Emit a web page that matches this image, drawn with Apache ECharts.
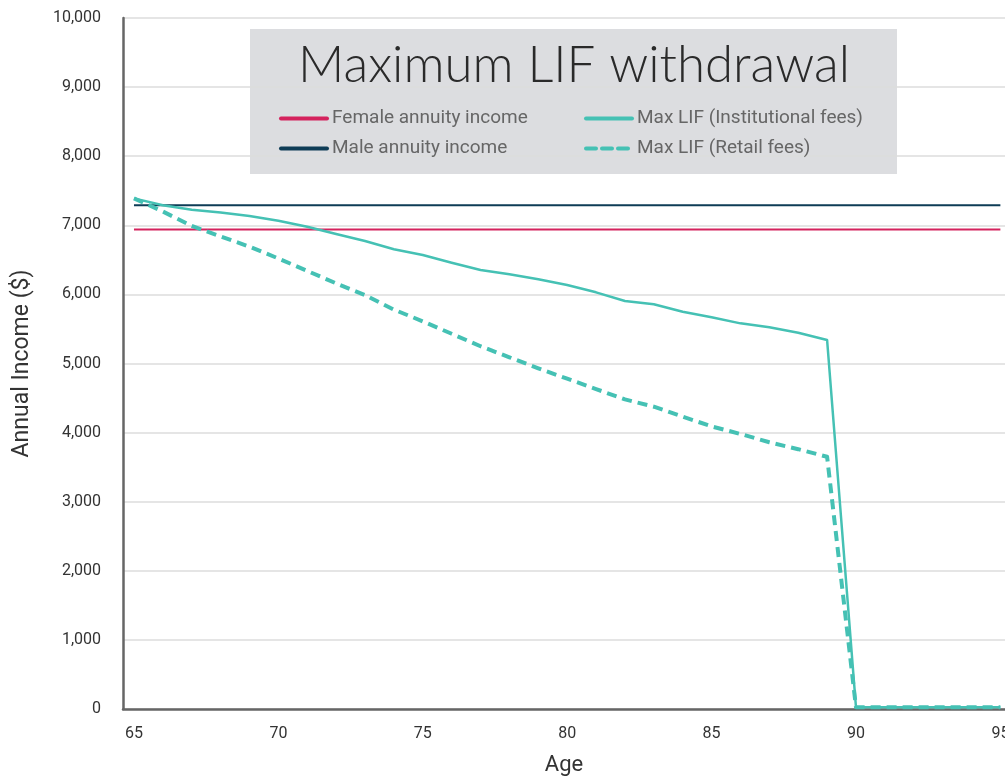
<!DOCTYPE html>
<html>
<head>
<meta charset="utf-8">
<script src="https://cdn.jsdelivr.net/npm/echarts@6/dist/echarts.min.js"></script>
<style>
html,body{margin:0;padding:0;background:#fff;}
#chart{width:1005px;height:777px;}
</style>
</head>
<body>
<div id="chart"></div>
<script>
const ages = [65,66,67,68,69,70,71,72,73,74,75,76,77,78,79,80,81,82,83,84,85,86,87,88,89,90,91,92,93,94,95];
const femaleAnnuity = 6940;
const maleAnnuity = 7290;
const maxLifInstitutional = [7390,7290,7225,7185,7135,7067,6980,6874,6773,6653,6570,6459,6353,6290,6218,6136,6030,5904,5857,5750,5668,5581,5524,5446,5340,25,25,25,25,25,25];
const maxLifRetail = [7390,7200,6990,6840,6690,6520,6340,6160,5990,5780,5610,5430,5250,5090,4930,4780,4630,4480,4375,4230,4090,3980,3860,3760,3650,25,25,25,25,25,25];
const xTicks = [65,70,75,80,85,90,95];

const pairs = arr => ages.map((a,i)=>[a,arr[i]]);
const constPairs = v => ages.map(a=>[a,v]);

const FONT = 'Roboto';
const legendBase = {orient:'vertical',top:109,padding:0,
  itemWidth:46,itemHeight:18,itemGap:11,
  itemStyle:{opacity:0,borderWidth:0},
  lineStyle:{width:4,cap:'round'},
  textStyle:{fontFamily:FONT,fontSize:19,color:'#666',lineHeight:18}};
const chart = echarts.init(document.getElementById('chart'));
chart.setOption({
  animation:false,
  backgroundColor:'#ffffff',
  grid:{left:123,right:0,top:18,bottom:68,containLabel:false,outerBoundsMode:'none'},
  graphic:[{type:'rect',shape:{x:250,y:29,width:647,height:145},style:{fill:'#dcdde0'},z:0,silent:true}],
  title:{text:'Maximum LIF withdrawal',left:574,top:40,textAlign:'center',padding:0,
    textStyle:{fontFamily:'Lato',fontWeight:300,fontSize:51,color:'#2a2a2a'}},
  legend:[
    Object.assign({data:['Female annuity income','Male annuity income'],left:279},legendBase),
    Object.assign({data:['Max LIF (Institutional fees)','Max LIF (Retail fees)'],left:584},legendBase)
  ],
  xAxis:{type:'value',min:64.62,max:95.16,name:'Age',nameLocation:'middle',nameGap:45,
    nameTextStyle:{fontFamily:FONT,fontSize:22,color:'#333'},
    axisLine:{show:true,lineStyle:{color:'#666',width:2.5}},
    axisTick:{show:false},
    splitLine:{show:false},
    axisLabel:{customValues:xTicks,fontFamily:FONT,fontSize:16,color:'#333',margin:17}},
  yAxis:{type:'value',min:0,max:10000,interval:1000,name:'Annual Income ($)',nameLocation:'middle',nameGap:89,
    nameTextStyle:{fontFamily:FONT,fontSize:23,color:'#333'},
    axisLine:{show:true,lineStyle:{color:'#666',width:2.5}},
    axisTick:{show:false},
    splitLine:{show:true,lineStyle:{color:'#dddddd',width:1.5}},
    axisLabel:{fontFamily:FONT,fontSize:16,color:'#333',margin:22,
      formatter:v=>v.toLocaleString('en-US')}},
  series:[
    {name:'Female annuity income',type:'line',data:constPairs(femaleAnnuity),symbol:'none',
     lineStyle:{color:'#d4225d',width:2},itemStyle:{color:'#d4225d'}},
    {name:'Male annuity income',type:'line',data:constPairs(maleAnnuity),symbol:'none',
     lineStyle:{color:'#0e3c56',width:2},itemStyle:{color:'#0e3c56'}},
    {name:'Max LIF (Institutional fees)',type:'line',data:pairs(maxLifInstitutional),symbol:'none',
     lineStyle:{color:'#45c1b4',width:2.5,join:'round'},itemStyle:{color:'#45c1b4'}},
    {name:'Max LIF (Retail fees)',type:'line',data:pairs(maxLifRetail),symbol:'none',
     lineStyle:{color:'#45c1b4',width:4,type:[10,6],join:'round'},itemStyle:{color:'#45c1b4'}}
  ]
});
</script>
</body>
</html>
